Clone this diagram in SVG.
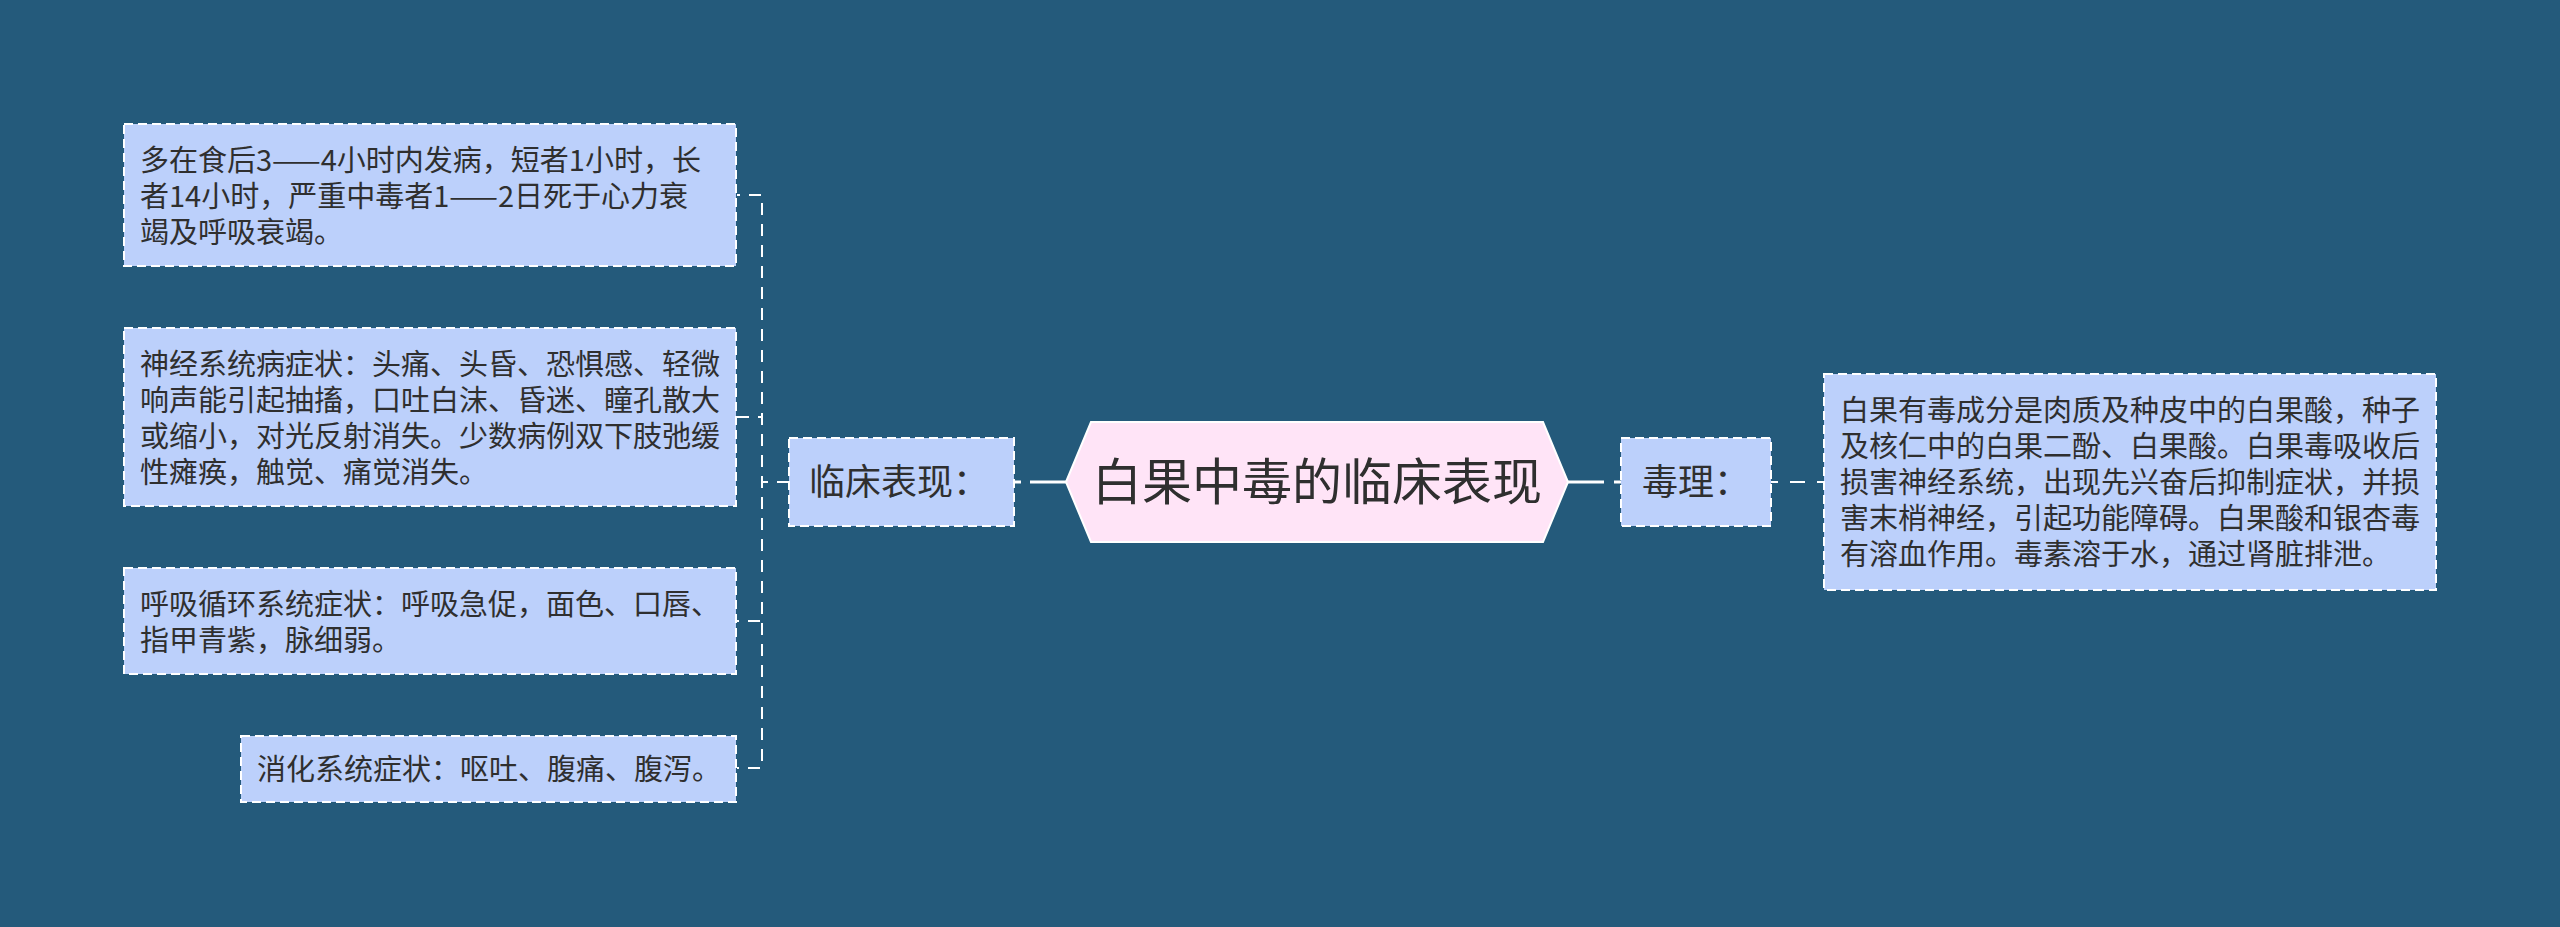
<svg xmlns="http://www.w3.org/2000/svg" width="2560" height="927" viewBox="0 0 2560 927">
  <style>
    .bg { fill: #245a7b; }
    .box { fill: #bcd0fb; stroke: #ffffff; stroke-width: 2; stroke-dasharray: 9 5; }
    .root { fill: #ffe4f7; stroke: #ffffff; stroke-width: 2; }
    .t { font-family: "Noto Sans CJK SC", "Noto Sans", sans-serif; fill: #2f2f2f; }
    .small { font-size: 29px; }
    .mid { font-size: 36px; }
    .big { font-size: 50px; }
    .dash { fill: none; stroke: #ffffff; stroke-width: 2; stroke-dasharray: 12 9; }
    .solid { fill: none; stroke: #ffffff; stroke-width: 3; }
  </style>
  <rect class="bg" x="0" y="0" width="2560" height="927"/>

  <g id="connectors">
    <path class="dash" d="M789 482 H762 V195 H737"/>
    <path class="dash" d="M789 482 H762 V417 H737"/>
    <path class="dash" d="M789 482 H762 V621 H737"/>
    <path class="dash" d="M789 482 H762 V768 H737"/>
    <path class="solid" d="M1066 482 H1030"/>
    <path class="solid" d="M1021 482 H1014"/>
    <path class="solid" d="M1568 482 H1604"/>
    <path class="solid" d="M1614 482 H1621"/>
    <path class="dash" d="M1771 482 H1824" style="stroke-dasharray: 7 12 15 12 7"/>
  </g>

  <g id="root">
    <polygon class="root" points="1066,482 1091,422 1543,422 1568,482 1543,542 1091,542"/>
    <text class="t big" x="1317" y="500" text-anchor="middle">白果中毒的临床表现</text>
  </g>

  <g id="clinical">
    <rect class="box" x="789" y="438" width="225" height="88"/>
    <text class="t mid" x="809" y="495">临床表现：</text>
  </g>

  <g id="toxicology">
    <rect class="box" x="1621" y="438" width="150" height="88"/>
    <text class="t mid" x="1642" y="495">毒理：</text>
  </g>

  <g id="onset">
    <rect class="box" x="124" y="124" width="612" height="142"/>
    <text class="t small" x="140" y="171">
      <tspan x="140" y="171">多在食后3——4小时内发病，短者1小时，长</tspan>
      <tspan x="140" y="207">者14小时，严重中毒者1——2日死于心力衰</tspan>
      <tspan x="140" y="243">竭及呼吸衰竭。</tspan>
    </text>
  </g>

  <g id="nervous">
    <rect class="box" x="124" y="328" width="612" height="178"/>
    <text class="t small" x="140" y="375">
      <tspan x="140" y="375">神经系统病症状：头痛、头昏、恐惧感、轻微</tspan>
      <tspan x="140" y="411">响声能引起抽搐，口吐白沫、昏迷、瞳孔散大</tspan>
      <tspan x="140" y="447">或缩小，对光反射消失。少数病例双下肢弛缓</tspan>
      <tspan x="140" y="483">性瘫痪，触觉、痛觉消失。</tspan>
    </text>
  </g>

  <g id="respiratory">
    <rect class="box" x="124" y="568" width="612" height="106"/>
    <text class="t small" x="140" y="615">
      <tspan x="140" y="615">呼吸循环系统症状：呼吸急促，面色、口唇、</tspan>
      <tspan x="140" y="651">指甲青紫，脉细弱。</tspan>
    </text>
  </g>

  <g id="digestive">
    <rect class="box" x="241" y="736" width="495" height="66"/>
    <text class="t small" x="257" y="780">消化系统症状：呕吐、腹痛、腹泻。</text>
  </g>

  <g id="toxin-detail">
    <rect class="box" x="1824" y="374" width="612" height="216"/>
    <text class="t small" x="1840" y="421">
      <tspan x="1840" y="421">白果有毒成分是肉质及种皮中的白果酸，种子</tspan>
      <tspan x="1840" y="457">及核仁中的白果二酚、白果酸。白果毒吸收后</tspan>
      <tspan x="1840" y="493">损害神经系统，出现先兴奋后抑制症状，并损</tspan>
      <tspan x="1840" y="529">害末梢神经，引起功能障碍。白果酸和银杏毒</tspan>
      <tspan x="1840" y="565">有溶血作用。毒素溶于水，通过肾脏排泄。</tspan>
    </text>
  </g>
</svg>
